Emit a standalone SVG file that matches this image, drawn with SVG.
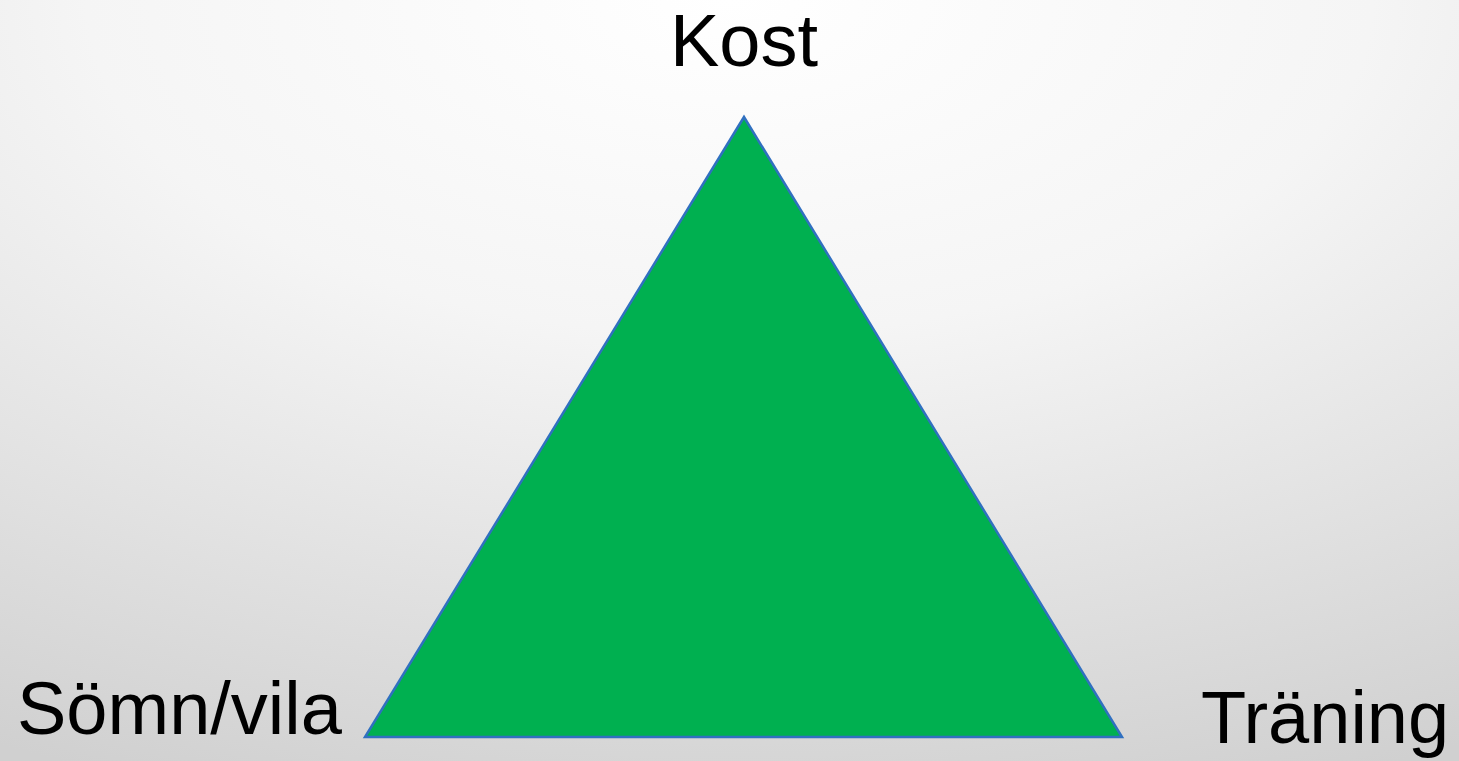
<svg xmlns="http://www.w3.org/2000/svg" width="1459" height="761" viewBox="0 0 1459 761">
<defs>
<radialGradient id="bg" cx="0.5" cy="0" r="1.1" gradientUnits="objectBoundingBox" fx="0.5" fy="0">
<stop offset="0" stop-color="#ffffff"/>
<stop offset="0.4" stop-color="#f5f5f5"/>
<stop offset="1" stop-color="#d0d0d0"/>
</radialGradient>
<style>
.lbl{font-family:"Liberation Sans",Arial,sans-serif;font-size:74px;fill:#000}
</style>
</defs>
<rect width="1459" height="761" fill="url(#bg)"/>
<g id="triangle">
<polygon points="744,117 365,737 1122,737" fill="#00B050" stroke="#3070C0" stroke-width="2.5"/>
</g>
<g id="kost"><text class="lbl" x="744" y="66" text-anchor="middle">Kost</text></g>
<g id="somn"><text class="lbl" x="17" y="734">Sömn/vila</text></g>
<g id="traning"><text class="lbl" x="1201" y="743">Träning</text></g>
<g id="connectors"></g>
</svg>
